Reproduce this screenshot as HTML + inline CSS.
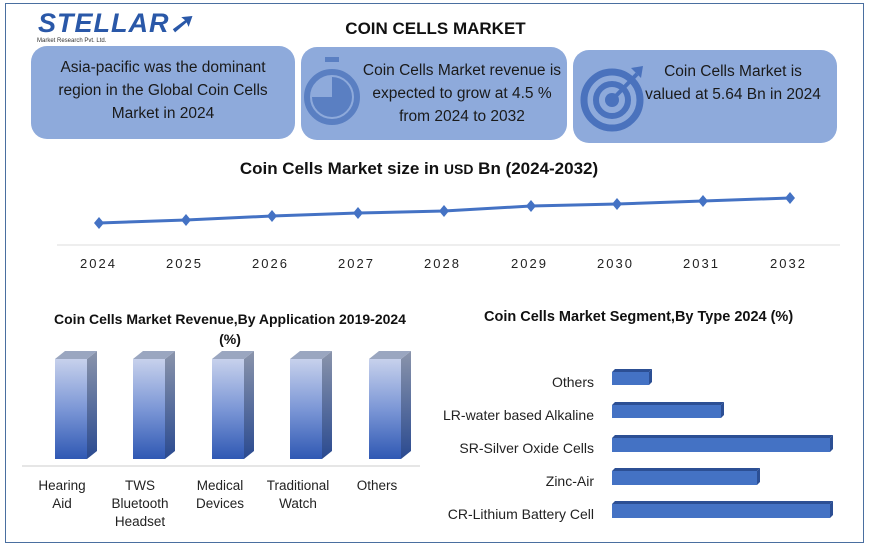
<!DOCTYPE html>
<html><head><meta charset="utf-8"><style>
body{margin:0;width:871px;height:547px;background:#fff;font-family:"Liberation Sans",sans-serif;position:relative;overflow:hidden}
.a{position:absolute}
.box{position:absolute;background:#8eaadb;border-radius:16px;color:#1a1a1a;font-size:15.5px;line-height:23px;text-align:center}
.t{position:absolute;font-weight:bold;color:#111;white-space:nowrap}
.yr{position:absolute;top:256px;font-size:13px;letter-spacing:2px;color:#222}
.lab{position:absolute;font-size:13.5px;color:#222;text-align:center;line-height:18px}
.hl{position:absolute;font-size:14px;color:#222;text-align:right;right:277px}
</style></head><body>
<div class="a" style="left:5px;top:3px;width:857px;height:538px;border:1.5px solid #4a6fa0"></div>
<div class="a" style="left:38px;top:8px;font-size:27px;font-weight:bold;color:#2a58a8;letter-spacing:1px;font-style:italic">STELLAR<span style="color:#2a58a8">&#10138;</span></div>
<div class="a" style="left:37px;top:38px;font-size:6px;color:#333">Market Research Pvt. Ltd.</div>
<div class="t" style="left:0;width:871px;text-align:center;top:19px;font-size:17px">COIN CELLS MARKET</div>
<div class="box" style="left:31px;top:46px;width:264px;height:93px;padding-top:10px;box-sizing:border-box">Asia-pacific was the dominant<br>region in the Global Coin Cells<br>Market in 2024</div>
<div class="box" style="left:301px;top:47px;width:266px;height:93px">
<svg class="a" style="left:2px;top:8px" width="60" height="75" viewBox="0 0 60 75"><rect x="22" y="2" width="14" height="5" fill="#5a7fc2"/><circle cx="29" cy="42" r="25" fill="none" stroke="#5a7fc2" stroke-width="6"/><path d="M29 42 V22 A20 20 0 1 1 9 42 Z" fill="#5a7fc2"/></svg>
<div class="a" style="left:56px;top:12px;width:210px">Coin Cells Market revenue is<br>expected to grow at 4.5 %<br>from 2024 to 2032</div></div>
<div class="box" style="left:573px;top:50px;width:264px;height:93px">
<svg class="a" style="left:6px;top:12px" width="70" height="70" viewBox="0 0 70 70"><circle cx="33" cy="38" r="28" fill="none" stroke="#4a72bd" stroke-width="7"/><circle cx="33" cy="38" r="16" fill="none" stroke="#4a72bd" stroke-width="6"/><circle cx="33" cy="38" r="7" fill="#4a72bd"/><line x1="33" y1="38" x2="58" y2="12" stroke="#4a72bd" stroke-width="4"/><path d="M52 6 L64 4 L62 16 Z" fill="#4a72bd"/></svg>
<div class="a" style="left:60px;top:10px;width:200px">Coin Cells Market is<br>valued at 5.64 Bn in 2024</div></div>
<div class="t" style="left:0;width:838px;text-align:center;top:159px;font-size:17px">Coin Cells Market size in <span style="font-size:14px">USD</span> Bn (2024-2032)</div>
<svg class="a" style="left:0;top:0" width="871" height="547">
<line x1="57" y1="245" x2="840" y2="245" stroke="#ddd"/>
<polyline points="99,223 186,220 272,216 358,213 444,211 531,206 617,204 703,201 790,198" fill="none" stroke="#4472c4" stroke-width="3"/>
<g fill="#4472c4">
<path d="M99,217 l5,6 -5,6 -5,-6z"/><path d="M186,214 l5,6 -5,6 -5,-6z"/><path d="M272,210 l5,6 -5,6 -5,-6z"/><path d="M358,207 l5,6 -5,6 -5,-6z"/><path d="M444,205 l5,6 -5,6 -5,-6z"/><path d="M531,200 l5,6 -5,6 -5,-6z"/><path d="M617,198 l5,6 -5,6 -5,-6z"/><path d="M703,195 l5,6 -5,6 -5,-6z"/><path d="M790,192 l5,6 -5,6 -5,-6z"/></g>
<defs><linearGradient id="g" x1="0" y1="0" x2="0" y2="1"><stop offset="0" stop-color="#c7d1ec"/><stop offset="0.5" stop-color="#7c97d6"/><stop offset="1" stop-color="#2f58b3"/></linearGradient>
<linearGradient id="s" x1="0" y1="0" x2="0" y2="1"><stop offset="0" stop-color="#8a94ab"/><stop offset="1" stop-color="#2a4a90"/></linearGradient></defs>
<line x1="22" y1="466" x2="420" y2="466" stroke="#ccc"/>
<g>
<g transform="translate(55,0)"><rect x="0" y="359" width="32" height="100" fill="url(#g)"/><path d="M32,359 l10,-8 v100 l-10,8z" fill="url(#s)"/><path d="M0,359 l10,-8 h32 l-10,8z" fill="#9aa6c0"/></g>
<g transform="translate(133,0)"><rect x="0" y="359" width="32" height="100" fill="url(#g)"/><path d="M32,359 l10,-8 v100 l-10,8z" fill="url(#s)"/><path d="M0,359 l10,-8 h32 l-10,8z" fill="#9aa6c0"/></g>
<g transform="translate(212,0)"><rect x="0" y="359" width="32" height="100" fill="url(#g)"/><path d="M32,359 l10,-8 v100 l-10,8z" fill="url(#s)"/><path d="M0,359 l10,-8 h32 l-10,8z" fill="#9aa6c0"/></g>
<g transform="translate(290,0)"><rect x="0" y="359" width="32" height="100" fill="url(#g)"/><path d="M32,359 l10,-8 v100 l-10,8z" fill="url(#s)"/><path d="M0,359 l10,-8 h32 l-10,8z" fill="#9aa6c0"/></g>
<g transform="translate(369,0)"><rect x="0" y="359" width="32" height="100" fill="url(#g)"/><path d="M32,359 l10,-8 v100 l-10,8z" fill="url(#s)"/><path d="M0,359 l10,-8 h32 l-10,8z" fill="#9aa6c0"/></g>
</g>
<g fill="#4472c4">
<rect x="612" y="372" width="37" height="13"/><rect x="612" y="405" width="109" height="13"/><rect x="612" y="438" width="218" height="14"/><rect x="612" y="471" width="145" height="14"/><rect x="612" y="504" width="218" height="14"/></g>
<g fill="#2c4f94">
<path d="M649,372 l3,-3 v13 l-3,3z"/><path d="M721,405 l3,-3 v13 l-3,3z"/><path d="M830,438 l3,-3 v14 l-3,3z"/><path d="M757,471 l3,-3 v14 l-3,3z"/><path d="M830,504 l3,-3 v14 l-3,3z"/>
<path d="M612,372 l3,-3 h37 l-3,3z"/><path d="M612,405 l3,-3 h109 l-3,3z"/><path d="M612,438 l3,-3 h218 l-3,3z"/><path d="M612,471 l3,-3 h145 l-3,3z"/><path d="M612,504 l3,-3 h218 l-3,3z"/></g>
</svg>
<div class="yr" style="left:80px">2024</div><div class="yr" style="left:166px">2025</div><div class="yr" style="left:252px">2026</div><div class="yr" style="left:338px">2027</div><div class="yr" style="left:424px">2028</div><div class="yr" style="left:511px">2029</div><div class="yr" style="left:597px">2030</div><div class="yr" style="left:683px">2031</div><div class="yr" style="left:770px">2032</div>
<div class="t" style="left:20px;width:420px;text-align:center;top:309px;font-size:14px;line-height:20px">Coin Cells Market Revenue,By Application 2019-2024<br>(%)</div>
<div class="t" style="left:484px;top:309px;font-size:14.5px">Coin Cells Market Segment,By Type 2024 (%)</div>
<div class="lab" style="left:22px;width:80px;top:477px">Hearing<br>Aid</div>
<div class="lab" style="left:100px;width:80px;top:477px">TWS<br>Bluetooth<br>Headset</div>
<div class="lab" style="left:180px;width:80px;top:477px">Medical<br>Devices</div>
<div class="lab" style="left:258px;width:80px;top:477px">Traditional<br>Watch</div>
<div class="lab" style="left:337px;width:80px;top:477px">Others</div>
<div class="hl" style="top:374px">Others</div>
<div class="hl" style="top:407px">LR-water based Alkaline</div>
<div class="hl" style="top:440px">SR-Silver Oxide Cells</div>
<div class="hl" style="top:473px">Zinc-Air</div>
<div class="hl" style="top:506px">CR-Lithium Battery Cell</div>
</body></html>
